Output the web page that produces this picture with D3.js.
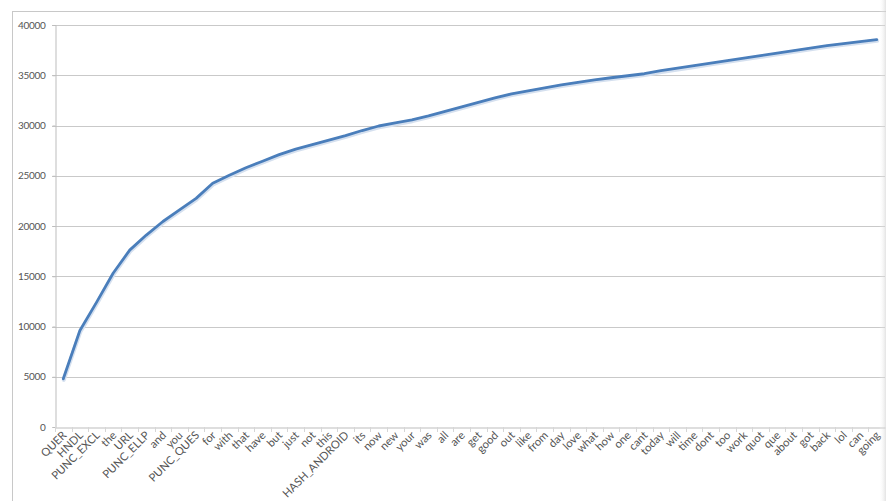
<!DOCTYPE html>
<html>
<head>
<meta charset="utf-8">
<script src="https://cdn.jsdelivr.net/npm/d3@7"></script>
<style>
  html, body { margin: 0; padding: 0; background: #ffffff; }
  svg { display: block; }
  text { font-family: Lato, Carlito, "Liberation Sans", sans-serif; }
</style>
</head>
<body>
<svg id="chart" width="886" height="501"></svg>
<script>
const categories = ["QUER","HNDL","PUNC_EXCL","the","URL","PUNC_ELLP","and","you","PUNC_QUES","for",
  "with","that","have","but","just","not","this","HASH_ANDROID","its","now",
  "new","your","was","all","are","get","good","out","like","from",
  "day","love","what","how","one","cant","today","will","time","dont",
  "too","work","quot","que","about","got","back","lol","can","going"];

const values = [4800, 9600, 12400, 15300, 17600, 19100, 20450, 21600, 22750, 24250,
  25050, 25800, 26450, 27100, 27650, 28100, 28550, 29000, 29500, 29950,
  30250, 30550, 30950, 31400, 31850, 32300, 32750, 33150, 33450, 33750,
  34050, 34300, 34550, 34750, 34950, 35150, 35450, 35700, 35950, 36200,
  36450, 36700, 36950, 37200, 37450, 37700, 37950, 38150, 38350, 38550];

const yTicks = [0, 5000, 10000, 15000, 20000, 25000, 30000, 35000, 40000];

(function () {
const svg = d3.select("#chart");
const W = 886, H = 501;
const mLeft = 55, mRight = 885, mTop = 25, mBottom = 427;

svg.append("rect").attr("x", 0).attr("y", 0).attr("width", W).attr("height", H).attr("fill", "#ffffff");
svg.append("line").attr("x1", 12).attr("x2", W).attr("y1", 11.5).attr("y2", 11.5)
  .attr("stroke", "#c8c8c8").attr("stroke-width", 1);
svg.append("line").attr("x1", 12.5).attr("x2", 12.5).attr("y1", 11).attr("y2", H)
  .attr("stroke", "#c8c8c8").attr("stroke-width", 1);

const x = d3.scaleBand().domain(categories).range([mLeft, mRight]).paddingInner(0).paddingOuter(0);
const y = d3.scaleLinear().domain([0, 40000]).range([mBottom, mTop]);

svg.append("g").selectAll("line").data(yTicks.filter(d => d > 0)).join("line")
  .attr("x1", mLeft - 3).attr("x2", mRight)
  .attr("y1", d => Math.round(y(d)) + 0.5).attr("y2", d => Math.round(y(d)) + 0.5)
  .attr("stroke", "#c9c9c9").attr("stroke-width", 1);

const yAxis = d3.axisLeft(y).tickValues(yTicks).tickSize(3).tickPadding(7).tickFormat(d3.format("d"));
const gy = svg.append("g").attr("transform", `translate(${mLeft + 0.5},0)`).call(yAxis);
gy.select(".domain").attr("stroke", "#bdbdbd");
gy.selectAll(".tick line").attr("stroke", "#bdbdbd");
gy.selectAll(".tick text").attr("fill", "#555555").style("font-size", "10px")
  .style("font-family", "Lato, sans-serif").style("letter-spacing", "-0.3px");

const xAxis = d3.axisBottom(x).tickSize(0).tickFormat(() => "");
const gx = svg.append("g").attr("transform", `translate(0,${mBottom + 0.5})`).call(xAxis);
gx.select(".domain").attr("stroke", "#bdbdbd");

svg.append("g").selectAll("line").data(categories).join("line")
  .attr("x1", d => Math.round(x(d)) + 0.5).attr("x2", d => Math.round(x(d)) + 0.5)
  .attr("y1", mBottom).attr("y2", mBottom + 5)
  .attr("stroke", "#d6d6d6").attr("stroke-width", 1);

// rotated category labels
const lab = svg.append("g").selectAll("g").data(categories).join("g")
  .attr("transform", d => `translate(${x(d) + x.bandwidth() / 2 + 4},${mBottom + 9}) rotate(-45)`);
lab.append("text")
  .attr("x", 0).attr("y", 0)
  .attr("text-anchor", "end")
  .attr("fill", "#555555")
  .style("font-size", "11.2px")
  .text(d => d);

const line = d3.line()
  .x((d, i) => x(categories[i]) + x.bandwidth() / 2)
  .y(d => y(d));

svg.append("path").datum(values)
  .attr("d", line)
  .attr("fill", "none")
  .attr("stroke", "#d5e0ef")
  .attr("stroke-width", 4)
  .attr("stroke-linejoin", "round")
  .attr("stroke-linecap", "round")
  .attr("transform", "translate(0.5,1.2)");

svg.append("path").datum(values)
  .attr("d", line)
  .attr("fill", "none")
  .attr("stroke", "#4a7ebb")
  .attr("stroke-width", 2.8)
  .attr("stroke-linejoin", "round")
  .attr("stroke-linecap", "round");

const grad = svg.append("defs").append("linearGradient").attr("id", "edge")
  .attr("x1", "0").attr("x2", "1").attr("y1", "0").attr("y2", "0");
grad.append("stop").attr("offset", "0").attr("stop-color", "#ffffff").attr("stop-opacity", 0);
grad.append("stop").attr("offset", "1").attr("stop-color", "#d0d0d0").attr("stop-opacity", 0.6);
svg.append("rect").attr("x", 879).attr("y", 0).attr("width", 7).attr("height", H).attr("fill", "url(#edge)");
})();
</script>
</body>
</html>
